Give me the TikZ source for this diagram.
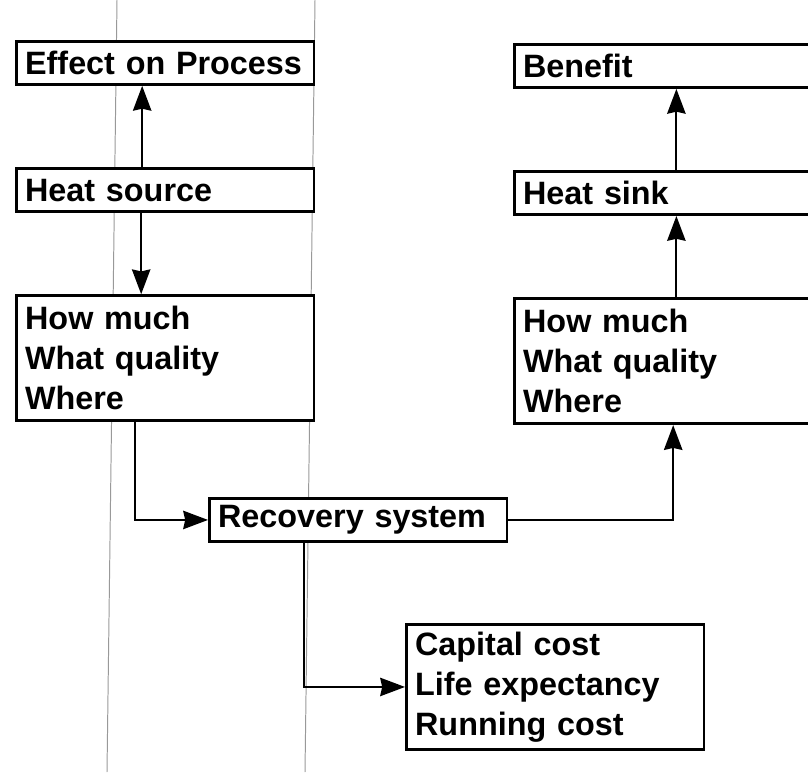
\documentclass[tikz,border=0pt]{standalone}
\usepackage{fontspec}
\setsansfont{Liberation Sans}
\usepackage{tikz}
\usetikzlibrary{arrows.meta, positioning}

\begin{document}
\begin{tikzpicture}[
                x=0.025cm, y=-0.025cm,
                node distance=2.03cm,
                box/.style={draw, fill=white, line width=1.9pt, align=left,
                    text width=7.0cm, inner xsep=0.22cm, inner ysep=0pt,
                    minimum height=1.08cm,
                    font=\sffamily\bfseries\fontsize{23}{28.5}\selectfont},
                tall/.style={box, minimum height=3.13cm},
                rule/.style={gray!80, line width=0.7pt},
                flow/.style={->, line width=1.3pt},
                >={Stealth[length=0.62cm, width=0.46cm, inset=0.05cm]}
            ]
            \clip (0,0) rectangle (808,772);
            \draw[rule] (117,0) -- (107,772);
            \draw[rule] (315,0) -- (305,772);
            \node[box, anchor=north west] (Effect) at (15,40) {Effect on Process};
            \node[box, below=of Effect] (Source) {Heat source};
            \node[tall, below=of Source] (SourceQ) {How much\\What quality\\Where};
            \node[box, anchor=north west] (Benefit) at (513,43) {Benefit};
            \node[box, below=of Benefit] (Sink) {Heat sink};
            \node[tall, below=of Sink] (SinkQ) {How much\\What quality\\Where};
            \node[box, anchor=north west] (Recovery) at (208,497) {Recovery system};
            \node[tall, anchor=north west] (Cost) at (405,623) {Capital cost\\Life expectancy\\Running cost};
            \draw[flow] ([xshift=-0.575cm]Source.north) -- ([xshift=-0.575cm]Effect.south);
            \draw[flow] ([xshift=-0.6cm]Source.south) -- ([xshift=-0.6cm]SourceQ.north);
            \draw[flow] ([xshift=-0.75cm]SourceQ.south) |- (Recovery.west);
            \draw[flow] (Recovery.east) -| ([xshift=0.25cm]SinkQ.south);
            \draw[flow] ([xshift=0.33cm]SinkQ.north) -- ([xshift=0.33cm]Sink.south);
            \draw[flow] ([xshift=0.33cm]Sink.north) -- ([xshift=0.33cm]Benefit.south);
            \draw[flow] ([xshift=-1.35cm]Recovery.south) |- (Cost.west);
        \end{tikzpicture}
\end{document}
